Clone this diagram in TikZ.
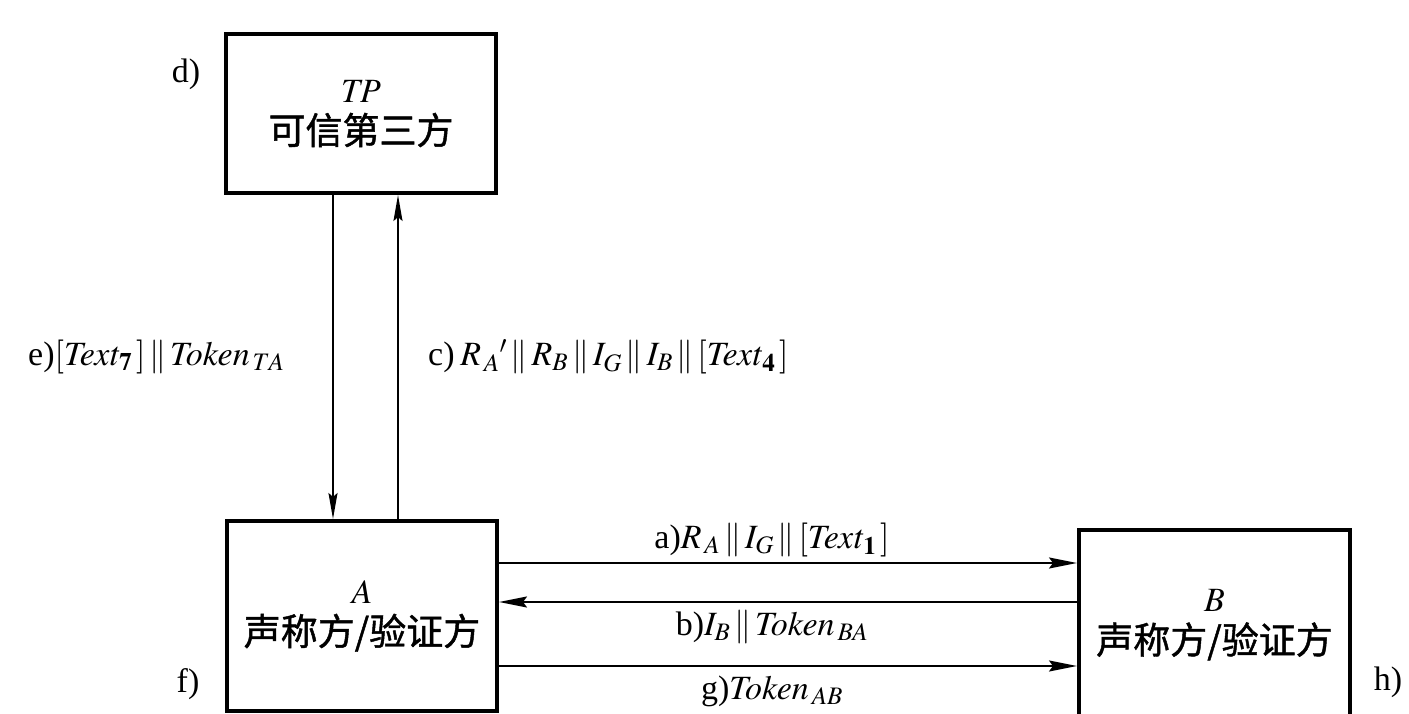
\documentclass[tikz,border=0pt]{standalone}
\usepackage{mathptmx}
\usepackage{fontspec}
\setmainfont{Liberation Serif}
\newfontfamily\cjk[FakeBold=1.2]{Noto Sans CJK SC}
\usetikzlibrary{arrows.meta}
\newcommand{\cat}{\,\|\,}
\begin{document}
\begin{tikzpicture}[x=1pt,y=-1pt,
  box/.style={draw,line width=4pt,minimum width=270pt,inner sep=0pt,align=center,font=\fontsize{34}{44}\selectfont},
  cn/.style={},
  msg/.style={line width=2pt,-{Stealth[length=28pt,width=11pt,inset=4pt]}},
  vmsg/.style={line width=2pt,-{Stealth[length=26pt,width=9pt,inset=4pt]}},
  lab/.style={font=\fontsize{34}{40}\selectfont,inner sep=0pt}]
\useasboundingbox (0,0) rectangle (1409,714);
\clip (0,0) rectangle (1409,714);
\node[box,minimum height=159pt] (TP) at (361,113.5) {$\mathit{TP}$\\[-2pt]{\cjk\fontsize{37}{44}\selectfont 可信第三方}};
\node[box,minimum height=190pt] (A) at (362,616) {$A$\\[-2pt]{\cjk\fontsize{37}{44}\selectfont 声称方/验证方}};
\node[box,minimum height=190pt,minimum width=271pt] (B) at (1214.5,625) {$B$\\[-2pt]{\cjk\fontsize{37}{44}\selectfont 声称方/验证方}};
% vertical
\draw[vmsg] (TP.south -| 333,0) -- (A.north -| 333,0);
\draw[vmsg] (A.north -| 398,0) -- (TP.south -| 398,0);
% horizontal
\draw[msg] (A.east |- 0,563) -- (B.west |- 0,563);
\draw[msg] (B.west |- 0,602) -- (A.east |- 0,602);
\draw[msg] (A.east |- 0,666) -- (B.west |- 0,666);
% labels
\node[lab] (ld) at (186,74) {d)};
\node[lab] (lf) at (188,684) {f)};
\node[lab] (lh) at (1388,682) {h)};
\node[lab,anchor=west] (le) at (28,357) {e)$[\mathit{Text}_{\mathbf{7}}\,]\cat\mathit{Token}_{\,TA}$};
\node[lab,anchor=west] (lc) at (428,357) {c)\,$R_{\,A}{}'\cat R_B\cat I_G\cat I_B\cat[\mathit{Text}_{\mathbf{4}}\,]$};
\node[lab] (la) at (772,540) {a)$R_{\,A}\cat I_G\cat[\mathit{Text}_{\mathbf{1}}\,]$};
\node[lab] (lb) at (772,627) {b)$I_B\cat\mathit{Token}_{\,BA}$};
\node[lab] (lg) at (772,691) {g)$\mathit{Token}_{\,AB}$};
\end{tikzpicture}
\end{document}
